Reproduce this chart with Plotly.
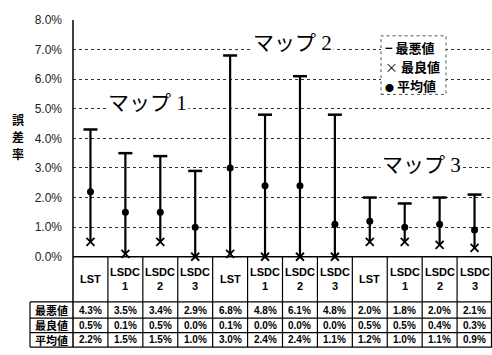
import plotly.graph_objects as go

categories = ["LST", "LSDC<br>1", "LSDC<br>2", "LSDC<br>3",
              "LST", "LSDC<br>1", "LSDC<br>2", "LSDC<br>3",
              "LST", "LSDC<br>1", "LSDC<br>2", "LSDC<br>3"]
worst = [4.3, 3.5, 3.4, 2.9, 6.8, 4.8, 6.1, 4.8, 2.0, 1.8, 2.0, 2.1]
best = [0.5, 0.1, 0.5, 0.0, 0.1, 0.0, 0.0, 0.0, 0.5, 0.5, 0.4, 0.3]
mean = [2.2, 1.5, 1.5, 1.0, 3.0, 2.4, 2.4, 1.1, 1.2, 1.0, 1.1, 0.9]
row_labels = ["最悪値", "最良値", "平均値"]
legend_symbols = ["<b>−</b>", "×", "<span style='font-size:9px'>●</span>"]
map_labels = ["マップ 1", "マップ 2", "マップ 3"]
y_title = ["誤", "差", "率"]
y_ticks = [0, 1, 2, 3, 4, 5, 6, 7, 8]

W, H = 492, 355
X0, X1 = 73, 492          # plot area pixel bounds
YT, YB = 13.5, 260        # plot top/bottom pixel
n = len(categories)

def px_x(p):
    return p / W

def px_y(p):
    return 1 - p / H

xs = list(range(n))
fig = go.Figure()

# vertical range lines
lx, ly = [], []
for i in xs:
    lx += [i, i, None]
    ly += [best[i], worst[i], None]
fig.add_trace(go.Scatter(x=lx, y=ly, mode="lines", line=dict(color="black", width=2.2),
                         showlegend=False, hoverinfo="skip", cliponaxis=False))
fig.add_trace(go.Scatter(x=xs, y=worst, mode="markers", name="最悪値", showlegend=False,
                         marker=dict(symbol="line-ew-open", size=10, color="black",
                                     line=dict(width=2.5, color="black")), cliponaxis=False))
fig.add_trace(go.Scatter(x=xs, y=best, mode="markers", name="最良値", showlegend=False,
                         marker=dict(symbol="x-thin-open", size=8, color="black",
                                     line=dict(width=1.8, color="black")), cliponaxis=False))
fig.add_trace(go.Scatter(x=xs, y=mean, mode="markers", name="平均値", showlegend=False,
                         marker=dict(symbol="circle", size=7, color="black"), cliponaxis=False))

shapes = []
def hline(y, xa, xb, w=1.2):
    shapes.append(dict(type="line", xref="paper", yref="paper", x0=px_x(xa), x1=px_x(xb),
                       y0=px_y(y), y1=px_y(y), line=dict(color="black", width=w)))

def vline(x, ya, yb, w=1.2):
    shapes.append(dict(type="line", xref="paper", yref="paper", x0=px_x(x), x1=px_x(x),
                       y0=px_y(ya), y1=px_y(yb), line=dict(color="black", width=w)))

row_y = [307, 324, 339, 354]
hline(YB, X0, X1, 1.5)
for y in row_y:
    hline(y, 30, X1)
vline(X0, YT, 354, 1.5)
vline(30, 307, 354)
cw = (X1 - X0) / n
for k in range(1, n + 1):
    vline(min(X0 + k * cw, 491.5), YB, 354)

# legend box
shapes.append(dict(type="rect", xref="paper", yref="paper", x0=px_x(381), x1=px_x(446),
                   y0=px_y(91), y1=px_y(30), fillcolor="white",
                   line=dict(color="#555", width=1, dash="dot")))

ann = []
for i, c in enumerate(categories):
    ann.append(dict(x=i, xref="x", y=px_y((YB + 307) / 2), yref="paper", text="<b>%s</b>" % c,
                    showarrow=False, font=dict(size=11, family="Liberation Sans", color="black"),
                    xanchor="center", yanchor="middle"))
for r, (lab, vals) in enumerate(zip(row_labels, [worst, best, mean])):
    yc = px_y((row_y[r] + row_y[r + 1]) / 2)
    ann.append(dict(x=px_x(51.5), xref="paper", y=yc, yref="paper", text="<b>%s</b>" % lab,
                    showarrow=False, font=dict(size=11, family="Noto Sans CJK JP", color="black"),
                    xanchor="center", yanchor="middle"))
    for i, v in enumerate(vals):
        ann.append(dict(x=i, xref="x", y=yc, yref="paper", text="<b>%.1f%%</b>" % v,
                        showarrow=False, font=dict(size=10, family="Liberation Sans", color="black"),
                        xanchor="center", yanchor="middle"))

# legend entries
for k, (sym, lab) in enumerate(zip(legend_symbols, row_labels)):
    ann.append(dict(x=px_x(383), xref="paper", y=px_y(42 + 20 * k), yref="paper",
                    text="%s <b>%s</b>" % (sym, lab), showarrow=False,
                    font=dict(size=13, family="Noto Sans CJK JP", color="black"),
                    xanchor="left", yanchor="middle"))

# map labels
map_pos = [(147, 100), (292, 37), (421, 165)]
for lab, (mx, my) in zip(map_labels, map_pos):
    ann.append(dict(x=px_x(mx), xref="paper", y=px_y(my), yref="paper", text=lab,
                    showarrow=False, bgcolor="white",
                    font=dict(size=21, family="Liberation Serif, Noto Sans CJK JP", color="black"),
                    xanchor="center", yanchor="middle"))

# y axis title (stacked characters)
for k, ch in enumerate(y_title):
    ann.append(dict(x=px_x(18), xref="paper", y=px_y(117 + 18 * k), yref="paper",
                    text="<b>%s</b>" % ch, showarrow=False,
                    font=dict(size=12, family="Noto Sans CJK JP", color="black"),
                    xanchor="center", yanchor="middle"))

fig.update_layout(
    width=W, height=H, margin=dict(l=0, r=0, t=0, b=0),
    paper_bgcolor="white", plot_bgcolor="white",
    shapes=shapes, annotations=ann, showlegend=False,
    xaxis=dict(domain=[px_x(X0), 1], range=[-0.5, n - 0.5], showticklabels=False,
               showgrid=False, zeroline=False, ticks=""),
    yaxis=dict(domain=[px_y(YB), px_y(YT)], range=[0, 8], tickvals=y_ticks,
               ticktext=["%.1f%%" % v for v in y_ticks],
               showgrid=True, gridcolor="#333", griddash="dot", gridwidth=1.3,
               zeroline=False, ticks="", ticklabelstandoff=10,
               tickfont=dict(size=12, family="Liberation Sans", color="#222")),
)

fig.write_html("out.html")
